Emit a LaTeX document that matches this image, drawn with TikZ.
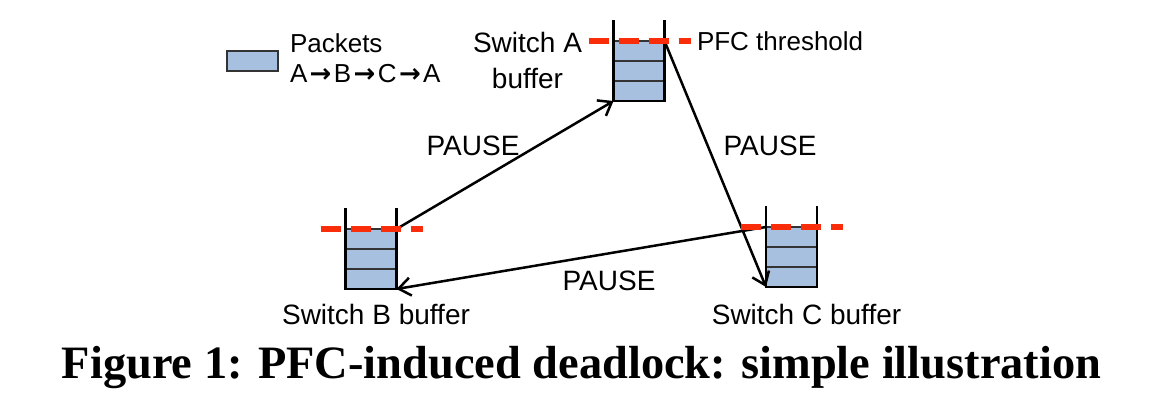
\documentclass[tikz,border=0pt]{standalone}
\usepackage{fontspec}
\setmainfont{Liberation Sans}
\newfontfamily\captionfont{Liberation Serif}
\newfontfamily\arrowfont{DejaVu Sans}
\newcommand{\pktarrow}{\hspace{1.2pt}{\arrowfont\bfseries →}\hspace{1.2pt}}
\usetikzlibrary{positioning,arrows.meta}
\definecolor{pktblue}{RGB}{168,192,224}
\definecolor{pfcred}{RGB}{250,45,10}

\begin{document}
\begin{tikzpicture}[x=0.5pt,y=0.5pt]
\tikzstyle{every node}+=[inner sep=0pt, outer sep=0pt]
\tikzstyle{packet}=[draw=black!80, line width=0.7pt, fill=pktblue, minimum width=25.5pt, minimum height=10pt]
\tikzstyle{wall}=[line width=1.3pt]
\tikzstyle{threshold}=[pfcred, line width=3pt, dash pattern=on 10pt off 5pt]
\tikzstyle{pause}=[line width=1.25pt, -{Straight Barb[length=6pt,width=9pt]}]
\useasboundingbox (0,0) rectangle (1160,-402);
% legend
\node [packet] (legend) at (252.5,-61) {};
\node [anchor=north west, align=left, font=\fontsize{13}{15}\selectfont] (legendtext) at (290,-33.5) {Packets\\A\pktarrow B\pktarrow C\pktarrow A};
% switch A
\node [packet] (A1) at (639,-91) {};
\node [packet, above=0pt of A1] (A2) {};
\node [packet, above=0pt of A2] (A3) {};
\draw [wall] ([yshift=10.5pt]A3.north west) -- (A1.south west) -- (A1.south east) -- ([yshift=10.5pt]A3.north east);
\node [anchor=north, align=center, font=\fontsize{14}{18}\selectfont] (labelA) at (527.5,-32) {Switch A\\buffer};
\node [anchor=west, font=\fontsize{13}{15}\selectfont] (pfc) at (697,-41) {PFC threshold};
% switch B
\node [packet] (B1) at (371,-279) {};
\node [packet, above=0pt of B1] (B2) {};
\node [packet, above=0pt of B2] (B3) {};
\draw [wall] ([yshift=10.5pt]B3.north west) -- (B1.south west) -- (B1.south east) -- ([yshift=10.5pt]B3.north east);
\node [anchor=base, font=\fontsize{14}{17}\selectfont] (labelB) at (376,-324) {Switch B buffer};
% switch C
\node [packet] (C1) at (791.5,-277) {};
\node [packet, above=0pt of C1] (C2) {};
\node [packet, above=0pt of C2] (C3) {};
\draw [wall] ([yshift=10.5pt]C3.north west) -- (C1.south west) -- (C1.south east) -- ([yshift=10.5pt]C3.north east);
\node [anchor=base, font=\fontsize{14}{17}\selectfont] (labelC) at (806.5,-324) {Switch C buffer};
% PAUSE frames
\draw [pause] (B3.north east) -- (A1.south west);
\draw [pause] (A3.north east) -- (C1.south west);
\draw [pause] (C3.north west) -- (B1.south east);
\node [anchor=base, font=\fontsize{14}{17}\selectfont] (pauseBA) at (473,-155) {PAUSE};
\node [anchor=base, font=\fontsize{14}{17}\selectfont] (pauseAC) at (770,-155) {PAUSE};
\node [anchor=base, font=\fontsize{14}{17}\selectfont] (pauseCB) at (609,-290) {PAUSE};
% thresholds
\draw [threshold] ([xshift=-12.5pt]A3.north west) -- ([xshift=13pt]A3.north east);
\draw [threshold] ([xshift=-12.5pt]B3.north west) -- ([xshift=13pt]B3.north east);
\draw [threshold] ([xshift=-12.5pt]C3.north west) -- ([xshift=13pt]C3.north east);
% caption
\node [anchor=base, font=\captionfont\bfseries\fontsize{23.2}{28}\selectfont] (caption) at (581.5,-378) {Figure 1: PFC-induced deadlock: simple illustration};
\end{tikzpicture}
\end{document}
